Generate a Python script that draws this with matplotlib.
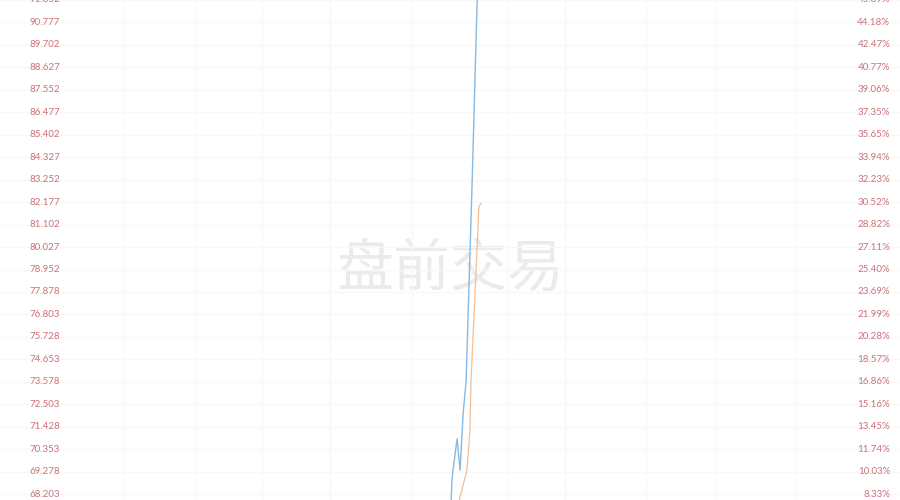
import matplotlib
matplotlib.use("Agg")
import matplotlib.pyplot as plt

plt.rcParams['font.family'] = ['Noto Sans CJK SC', 'DejaVu Sans']

# Left axis price ticks and right axis percentage ticks
price_ticks = ["68.203", "69.278", "70.353", "71.428", "72.503", "73.578", "74.653",
               "75.728", "76.803", "77.878", "78.952", "80.027", "81.102", "82.177",
               "83.252", "84.327", "85.402", "86.477", "87.552", "88.627", "89.702",
               "90.777", "91.852"]
pct_ticks = ["8.33%", "10.03%", "11.74%", "13.45%", "15.16%", "16.86%", "18.57%",
             "20.28%", "21.99%", "23.69%", "25.40%", "27.11%", "28.82%", "30.52%",
             "32.23%", "33.94%", "35.65%", "37.35%", "39.06%", "40.77%", "42.47%",
             "44.18%", "45.89%"]

# Pre-market minute index (0..330) and prices
price_minutes = [165.3, 165.7, 166.1, 167.6, 168.7, 169.8, 170.9, 173.1, 174.9, 175.3]
price_values = [67.40, 68.86, 69.34, 70.85, 69.34, 72.03, 73.60, 83.06, 91.58, 92.50]

avg_minutes = [167.6, 168.7, 171.2, 172.3, 172.7, 174.2, 175.6, 176.4]
avg_values = [67.40, 68.06, 69.34, 71.23, 73.60, 77.86, 81.97, 82.10]

watermark = "盘前交易"

fig = plt.figure(figsize=(9, 5), dpi=100)
ax = fig.add_axes([0, 0, 1, 1])
ax.set_xlim(0, 330)
ax.set_ylim(67.919, 91.582)

ax.set_yticks([float(t) for t in price_ticks])
ax.set_xticks([45, 72, 96, 121, 151, 186, 207, 237, 262, 292])
ax.grid(True, color="#f8f8f8", linewidth=1)
ax.tick_params(left=False, bottom=False, labelleft=False, labelbottom=False)
for s in ax.spines.values():
    s.set_visible(False)

ax.text(0.5, 0.46, watermark, transform=ax.transAxes, ha="center", va="center",
        fontsize=41, color="#ebebeb", zorder=1)

ax.plot(price_minutes, price_values, color="#86b9e4", linewidth=1.0, zorder=3)
ax.plot(avg_minutes, avg_values, color="#f3bf93", linewidth=0.9, zorder=3)

trans = ax.get_yaxis_transform()
for p, pc in zip(price_ticks, pct_ticks):
    v = float(p)
    ax.text(0.033, v, p, transform=trans, ha="left", va="center",
            fontsize=7, color="#cc7378", family=["Lato", "DejaVu Sans"])
    ax.text(0.989, v, pc, transform=trans, ha="right", va="center",
            fontsize=7, color="#cc7378", family=["Lato", "DejaVu Sans"])

fig.savefig("out.png", dpi=100)
